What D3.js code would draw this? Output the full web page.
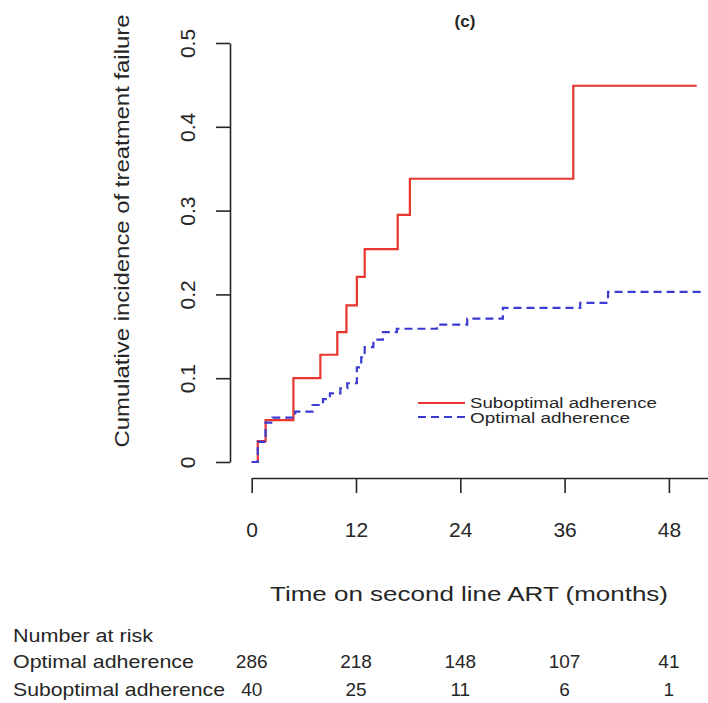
<!DOCTYPE html>
<html>
<head>
<meta charset="utf-8">
<script src="https://cdn.jsdelivr.net/npm/d3@7"></script>
<style>
  body { margin: 0; background: #fff; }
  svg { font-family: "Liberation Sans", Arial, sans-serif; }
</style>
</head>
<body>
<svg id="chart" width="708" height="703"></svg>
<script>
// step curves (months, cumulative incidence)
const suboptimalTimes = [0, 0.7, 1.6, 4.8, 7.9, 9.85, 10.9, 12.1, 13.0, 16.8, 18.2, 37.0, 51.2];
const suboptimalValues = [0, 0.025, 0.05, 0.10, 0.128, 0.155, 0.187, 0.221, 0.254, 0.295, 0.338, 0.449, 0.449];

const optimalTimes = [0, 0.7, 1.6, 2.4, 5.0, 7.0, 8.2, 9.0, 10.2, 11.0, 12.1, 12.6, 13.0, 14.0, 15.1, 16.7, 21.3, 24.8, 28.9, 37.8, 41.0, 52.2];
const optimalValues = [0, 0.024, 0.047, 0.053, 0.06, 0.068, 0.075, 0.082, 0.088, 0.094, 0.113, 0.125, 0.137, 0.146, 0.155, 0.159, 0.164, 0.171, 0.184, 0.19, 0.203, 0.203];

const xTicks = [0, 12, 24, 36, 48];
const yTicks = [0, 0.1, 0.2, 0.3, 0.4, 0.5];

const riskGroups = ['Optimal adherence', 'Suboptimal adherence'];
const riskOptimal = [286, 218, 148, 107, 41];
const riskSuboptimal = [40, 25, 11, 6, 1];

const ink = '#262626';
const svg = d3.select('#chart');

const x = d3.scaleLinear().domain([0, 52.5]).range([251.7, 708]);
const y = d3.scaleLinear().domain([0, 0.5]).range([462, 43]);

// x axis, offset below the plot like base R
const xAxis = svg.append('g')
  .attr('transform', 'translate(0,478)')
  .call(d3.axisBottom(x).tickValues(xTicks).tickSize(15).tickSizeOuter(0).tickPadding(29));
xAxis.select('.domain').attr('stroke', ink).attr('stroke-width', 1.6);
xAxis.selectAll('.tick line').attr('stroke', ink).attr('stroke-width', 1.6);
xAxis.selectAll('.tick text')
  .attr('fill', ink)
  .style('font-size', '21px');

// y axis with rotated labels
const yAxis = svg.append('g')
  .attr('transform', 'translate(230,0)')
  .call(d3.axisLeft(y).tickValues(yTicks).tickSize(14).tickSizeOuter(0)
    .tickFormat(d => d === 0 ? '0' : d3.format('.1f')(d)));
yAxis.select('.domain').attr('stroke', ink).attr('stroke-width', 1.6);
yAxis.selectAll('.tick line').attr('stroke', ink).attr('stroke-width', 1.6);
yAxis.selectAll('.tick text')
  .attr('fill', ink)
  .attr('text-anchor', 'middle')
  .attr('transform', 'rotate(-90)')
  .attr('x', 0)
  .attr('y', -42)
  .attr('dy', '0.35em')
  .style('font-size', '21px');

// curves
const line = d3.line()
  .x(d => x(d[0]))
  .y(d => y(d[1]))
  .curve(d3.curveStepAfter);

const optimal = optimalTimes.map((t, i) => [t, optimalValues[i]]);
const suboptimal = suboptimalTimes.map((t, i) => [t, suboptimalValues[i]]);

svg.append('path')
  .datum(suboptimal)
  .attr('d', line)
  .attr('fill', 'none')
  .attr('stroke', '#e8352f')
  .attr('stroke-width', 2.2);

svg.append('path')
  .datum(optimal)
  .attr('d', line)
  .attr('fill', 'none')
  .attr('stroke', '#3b3bd2')
  .attr('stroke-width', 2.2)
  .attr('stroke-dasharray', '8,5');

// legend
const legend = svg.append('g');
legend.append('line')
  .attr('x1', 418).attr('x2', 465).attr('y1', 403).attr('y2', 403)
  .attr('stroke', '#e8352f').attr('stroke-width', 2);
legend.append('line')
  .attr('x1', 418).attr('x2', 465).attr('y1', 417).attr('y2', 417)
  .attr('stroke', '#3b3bd2').attr('stroke-width', 2).attr('stroke-dasharray', '8,5');
legend.append('text')
  .attr('x', 470).attr('y', 408)
  .attr('textLength', 187).attr('lengthAdjust', 'spacingAndGlyphs')
  .style('font-size', '14px').attr('fill', ink)
  .text('Suboptimal adherence');
legend.append('text')
  .attr('x', 470).attr('y', 423)
  .attr('textLength', 160).attr('lengthAdjust', 'spacingAndGlyphs')
  .style('font-size', '14px').attr('fill', ink)
  .text('Optimal adherence');

// titles
svg.append('text')
  .attr('x', 465).attr('y', 27)
  .attr('text-anchor', 'middle')
  .style('font-size', '17px').style('font-weight', 'bold').attr('fill', ink)
  .text('(c)');

svg.append('text')
  .attr('transform', 'translate(122,231) rotate(-90)')
  .attr('text-anchor', 'middle')
  .attr('dy', '0.35em')
  .attr('textLength', 433).attr('lengthAdjust', 'spacingAndGlyphs')
  .style('font-size', '20px').attr('fill', ink)
  .text('Cumulative incidence of treatment failure');

svg.append('text')
  .attr('x', 270).attr('y', 601)
  .attr('textLength', 398).attr('lengthAdjust', 'spacingAndGlyphs')
  .style('font-size', '21px').attr('fill', ink)
  .text('Time on second line ART (months)');

// number at risk table
svg.append('text')
  .attr('x', 13).attr('y', 642)
  .attr('textLength', 140).attr('lengthAdjust', 'spacingAndGlyphs')
  .style('font-size', '18px').attr('fill', ink)
  .text('Number at risk');

const rowY = [668, 696];
const rowLen = [181, 212];
const riskRows = [riskOptimal, riskSuboptimal];

riskGroups.forEach((name, r) => {
  svg.append('text')
    .attr('x', 13).attr('y', rowY[r])
    .attr('textLength', rowLen[r]).attr('lengthAdjust', 'spacingAndGlyphs')
    .style('font-size', '19px').attr('fill', ink)
    .text(name);
  svg.append('g').selectAll('text')
    .data(riskRows[r])
    .enter()
    .append('text')
    .attr('x', (d, i) => x(xTicks[i]))
    .attr('y', rowY[r])
    .attr('text-anchor', 'middle')
    .style('font-size', '19px').attr('fill', ink)
    .text(d => d);
});
</script>
</body>
</html>
